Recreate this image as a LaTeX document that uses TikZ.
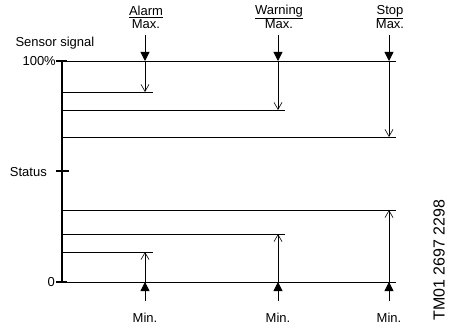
\documentclass[tikz,border=0pt]{standalone}
\usepackage{fontspec}
\setmainfont{Liberation Sans}
\usetikzlibrary{arrows.meta}

\tikzset{
  level/.style={line width=0.8pt},
  axis/.style={line width=1.8pt},
  fixed/.style={-{Triangle[length=9pt,width=9pt]}, line width=0.8pt},
  limit/.style={-{Straight Barb[length=7pt,width=8pt]}, line width=0.6pt},
  lbl/.style={align=center, anchor=south, inner sep=1pt},
}

\begin{document}
\begin{tikzpicture}[x=1pt, y=-1pt, font=\fontsize{13}{13}\selectfont]
\useasboundingbox (0,0) rectangle (454,328);

% axis
\coordinate (top) at (62,61);
\coordinate (zero) at (62,282);
\draw[axis] (top) -- (zero);
\draw[axis] (56,61) -- (67,61);
\draw[axis] (56,282) -- (67,282);
\draw[axis] (56,171) -- (69,171);
\node[anchor=west] (sensor) at (12,43) {Sensor signal};
\node[anchor=east, inner sep=1pt] (full) at (57,61) {100\%};
\node[anchor=east, inner sep=1pt] (status) at (48,172) {Status};
\node[anchor=east, inner sep=1pt] (nil) at (56,282) {0};

% levels
\draw[level] (top) -- (396,61);
\draw[level] (62,92) -- (153,92);
\draw[level] (62,110) -- (285,110);
\draw[level] (62,137) -- (396,137);
\draw[level] (62,210) -- (396,210);
\draw[level] (62,234) -- (285,234);
\draw[level] (62,252) -- (153,252);
\draw[level] (zero) -- (396,282);

% max settings
\node[lbl] (alarm) at (146,30) {\underline{Alarm}\\Max.};
\node[lbl] (warning) at (279,30) {\underline{Warning}\\Max.};
\node[lbl] (stop) at (390,30) {\underline{Stop}\\Max.};
\coordinate (alarmhi) at (145,61);
\coordinate (warninghi) at (278,61);
\coordinate (stophi) at (389,61);
\draw[fixed] (145,35) -- (alarmhi);
\draw[fixed] (278,35) -- (warninghi);
\draw[fixed] (389,35) -- (stophi);
\draw[limit] (alarmhi) -- (145,92);
\draw[limit] (warninghi) -- (278,110);
\draw[limit] (stophi) -- (389,137);

% min settings
\node (alarmmin) at (145,318) {Min.};
\node (warningmin) at (278,318) {Min.};
\node (stopmin) at (389,318) {Min.};
\coordinate (alarmlo) at (145,282);
\coordinate (warninglo) at (278,282);
\coordinate (stoplo) at (389,282);
\draw[fixed] (145,301) -- (alarmlo);
\draw[fixed] (278,301) -- (warninglo);
\draw[fixed] (389,301) -- (stoplo);
\draw[limit] (alarmlo) -- (145,252);
\draw[limit] (warninglo) -- (278,234);
\draw[limit] (stoplo) -- (389,210);

\node[rotate=90, font=\fontsize{16}{18}\selectfont] (tm) at (439,260) {TM01 2697 2298};
\end{tikzpicture}
\end{document}
